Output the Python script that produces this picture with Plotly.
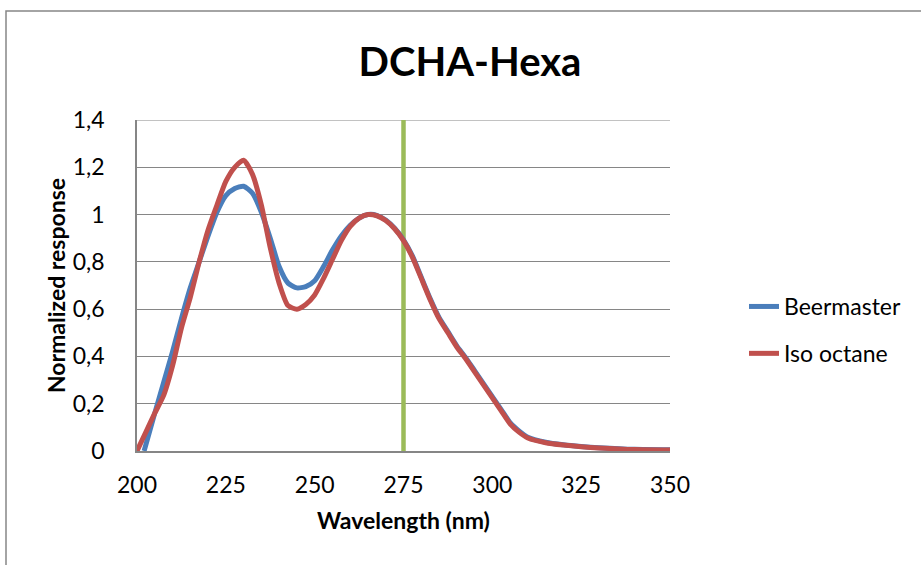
import plotly.graph_objects as go

title = "DCHA-Hexa"
x_title = "Wavelength (nm)"
y_title = "Normalized response"

beer_x = [202, 205, 207.5, 210, 212.5, 215, 217.5, 220, 222.5, 225, 227.5, 230, 232.5, 235, 237.5,
          240, 242.5, 245, 247.5, 250, 252.5, 255, 257.5, 260, 262.5, 265, 267.5, 270, 272.5, 275,
          277.5, 280, 282.5, 285, 287.5, 290, 292.5, 295, 297.5, 300, 302.5, 305, 307.5, 310, 315,
          320, 325, 330, 340, 350]
beer_y = [0, 0.16, 0.29, 0.42, 0.56, 0.69, 0.80, 0.91, 1.01, 1.08, 1.11, 1.12, 1.09, 1.01, 0.90,
          0.78, 0.71, 0.69, 0.695, 0.72, 0.78, 0.85, 0.91, 0.955, 0.985, 1.0, 0.997, 0.977, 0.942, 0.893,
          0.825, 0.735, 0.645, 0.565, 0.505, 0.445, 0.395, 0.34, 0.285, 0.23, 0.175, 0.12, 0.085, 0.058, 0.037,
          0.026, 0.019, 0.014, 0.007, 0.005]

iso_x = [200, 202.5, 205, 207.5, 210, 212.5, 215, 217.5, 220, 222.5, 225, 227.5, 230, 232.5, 235,
         237.5, 240, 242.5, 245, 247.5, 250, 252.5, 255, 257.5, 260, 262.5, 265, 267.5, 270, 272.5,
         275, 277.5, 280, 282.5, 285, 287.5, 290, 292.5, 295, 297.5, 300, 302.5, 305, 307.5, 310,
         315, 320, 325, 330, 340, 350]
iso_y = [0, 0.08, 0.16, 0.235, 0.36, 0.52, 0.65, 0.80, 0.935, 1.04, 1.14, 1.20, 1.23, 1.17, 1.04,
         0.86, 0.71, 0.615, 0.60, 0.62, 0.66, 0.73, 0.81, 0.89, 0.95, 0.985, 1.0, 0.995, 0.975, 0.94,
         0.89, 0.82, 0.73, 0.64, 0.56, 0.50, 0.44, 0.39, 0.335, 0.28, 0.225, 0.17, 0.115, 0.08, 0.055,
         0.035, 0.025, 0.018, 0.013, 0.006, 0.004]

marker_x = [275, 275]
marker_y = [0, 1.4]

x_ticks = [200, 225, 250, 275, 300, 325, 350]
x_ticktext = ["200", "225", "250", "275", "300", "325", "350"]
y_ticks = [0, 0.2, 0.4, 0.6, 0.8, 1.0, 1.2, 1.4]
y_ticktext = ["0", "0,2", "0,4", "0,6", "0,8", "1", "1,2", "1,4"]

FONT = "Lato, 'Open Sans', sans-serif"
GRID = "#868686"

fig = go.Figure()
fig.add_trace(go.Scatter(x=marker_x, y=marker_y, mode="lines", showlegend=False,
                         line=dict(color="#9BBB59", width=4.5), hoverinfo="skip"))
fig.add_trace(go.Scatter(x=beer_x, y=beer_y, mode="lines", name="Beermaster", legendgroup="a",
                         line=dict(color="#4A7EBB", width=5, shape="spline", smoothing=0.6)))
fig.add_trace(go.Scatter(x=iso_x, y=iso_y, mode="lines", name="Iso octane", legendgroup="b",
                         line=dict(color="#C0504D", width=5, shape="spline", smoothing=0.6)))

W, H = 921, 565
L, R, T, B = 137, 670, 120, 451
fig.update_layout(
    width=W, height=H,
    margin=dict(l=L, r=W - R, t=T, b=H - B, pad=0),
    paper_bgcolor="white", plot_bgcolor="white",
    font=dict(family=FONT, size=23, color="black"),
    title=dict(text="<b>" + title + "</b>", x=(470) / W, xanchor="center",
               y=1 - 62 / H, yanchor="middle", font=dict(size=40, family=FONT)),
    legend=dict(x=(744 - L) / (R - L), xanchor="left", y=(B - 330) / (B - T), yanchor="middle",
                font=dict(size=23, family=FONT), tracegroupgap=14, bgcolor="rgba(0,0,0,0)"),
    showlegend=True,
)
fig.update_xaxes(range=[200, 350], tickvals=x_ticks, ticktext=x_ticktext, showgrid=False,
                 showline=True, linecolor=GRID, linewidth=1.5, ticks="", ticklabelstandoff=13,
                 zeroline=False,
                 title=dict(text="<b>" + x_title + "</b>", font=dict(size=23), standoff=16))
fig.update_yaxes(range=[0, 1.4], tickvals=y_ticks, ticktext=y_ticktext, showgrid=True,
                 gridcolor=GRID, gridwidth=1, showline=True, linecolor=GRID, linewidth=1.5,
                 ticks="", ticklabelstandoff=26, zeroline=False,
                 title=dict(text="<b>" + y_title + "</b>", font=dict(size=23), standoff=1))

# top gridline at 1.4 and outer chart border
fig.add_shape(type="line", xref="paper", yref="y", x0=0, x1=1, y0=1.4, y1=1.4,
              line=dict(color=GRID, width=1), layer="below")
fig.add_shape(type="rect", xref="paper", yref="paper",
              x0=(6 - L) / (R - L), x1=(930 - L) / (R - L),
              y0=(B - 580) / (B - T), y1=(B - 11) / (B - T),
              line=dict(color=GRID, width=1.5), fillcolor="rgba(0,0,0,0)", layer="below")

fig.write_html("out.html")
